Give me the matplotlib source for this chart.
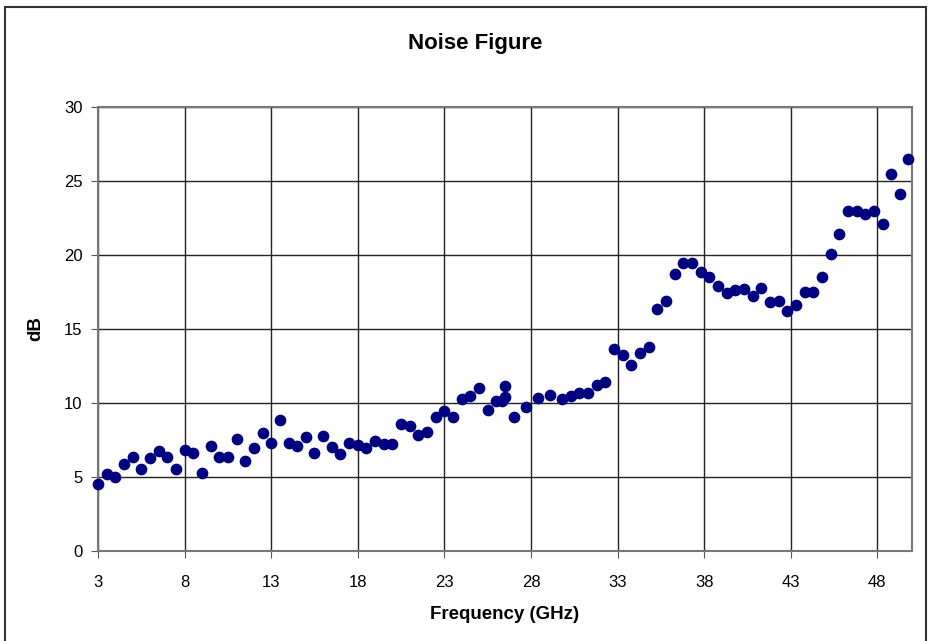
import matplotlib.pyplot as plt
from matplotlib.patches import Rectangle

freq_ghz = [3.0, 3.5, 4.0, 4.5, 5.0, 5.5, 6.0, 6.5, 7.0, 7.5,
            8.0, 8.5, 9.0, 9.5, 10.0, 10.5, 11.0, 11.5, 12.0, 12.5,
            13.0, 13.5, 14.0, 14.5, 15.0, 15.5, 16.0, 16.5, 17.0, 17.5,
            18.0, 18.5, 19.0, 19.5, 20.0, 20.5, 21.0, 21.5, 22.0, 22.5,
            23.0, 23.5, 24.0, 24.5, 25.0, 25.5, 26.0, 26.3, 26.5, 26.5,
            27.0, 27.7, 28.4, 29.1, 29.8, 30.3, 30.8, 31.3, 31.8, 32.3,
            32.8, 33.3, 33.8, 34.3, 34.8, 35.3, 35.8, 36.3, 36.8, 37.3,
            37.8, 38.3, 38.8, 39.3, 39.8, 40.3, 40.8, 41.3, 41.8, 42.3,
            42.8, 43.3, 43.8, 44.3, 44.8, 45.3, 45.8, 46.3, 46.8, 47.3,
            47.8, 48.3, 48.8, 49.3, 49.8]
noise_db = [4.5, 5.2, 5.0, 5.9, 6.35, 5.55, 6.3, 6.75, 6.35, 5.55,
            6.8, 6.6, 5.3, 7.1, 6.35, 6.35, 7.55, 6.1, 6.95, 7.95,
            7.3, 8.85, 7.3, 7.1, 7.7, 6.6, 7.75, 7.0, 6.55, 7.3,
            7.15, 6.95, 7.4, 7.2, 7.2, 8.55, 8.45, 7.85, 8.05, 9.05,
            9.45, 9.05, 10.3, 10.45, 11.0, 9.55, 10.15, 10.15, 11.15, 10.4,
            9.05, 9.75, 10.35, 10.55, 10.25, 10.45, 10.65, 10.65, 11.2, 11.45,
            13.65, 13.25, 12.55, 13.35, 13.8, 16.35, 16.9, 18.7, 19.45, 19.45,
            18.85, 18.5, 17.9, 17.4, 17.65, 17.7, 17.2, 17.75, 16.8, 16.9,
            16.2, 16.6, 17.5, 17.5, 18.5, 20.05, 21.45, 22.95, 22.95, 22.75,
            22.95, 22.1, 25.5, 24.15, 26.5]
x_ticks = [3, 8, 13, 18, 23, 28, 33, 38, 43, 48]
y_ticks = [0, 5, 10, 15, 20, 25, 30]

plt.rcParams['font.family'] = ['Liberation Sans', 'DejaVu Sans']

fig = plt.figure(figsize=(9.3, 6.41), dpi=100)
ax = fig.add_axes([0.1054, 0.1404, 0.8752, 0.6927])

ax.scatter(freq_ghz, noise_db, s=55, color='#000080', zorder=3, clip_on=False)

ax.set_xlim(3, 50)
ax.set_ylim(0, 30)
ax.set_xticks(x_ticks)
ax.set_yticks(y_ticks)
ax.grid(True, color='#222222', linewidth=1.0)
ax.set_axisbelow(True)
ax.tick_params(labelsize=12, direction='out', length=5, color='#555555')
ax.tick_params(axis='x', pad=12)
ax.tick_params(axis='y', pad=6)

for s in ax.spines.values():
    s.set_color('#777777')
    s.set_linewidth(1.5)

# title is centred on the whole chart box, not the plot area
fig.text(475 / 930, 1 - 44 / 641, 'Noise Figure', fontsize=16,
         fontweight='bold', ha='center', va='center')
ax.set_xlabel('Frequency (GHz)', fontsize=13.5, fontweight='bold', labelpad=12)
ax.set_ylabel('dB', fontsize=13.5, fontweight='bold', labelpad=14)

# outer chart border
fig.patches.append(Rectangle((5 / 930, -0.05), 921 / 930, 1.05 - 7 / 641,
                             transform=fig.transFigure, fill=False,
                             edgecolor='#333333', linewidth=1.5))

fig.savefig('out.png', dpi=100)
